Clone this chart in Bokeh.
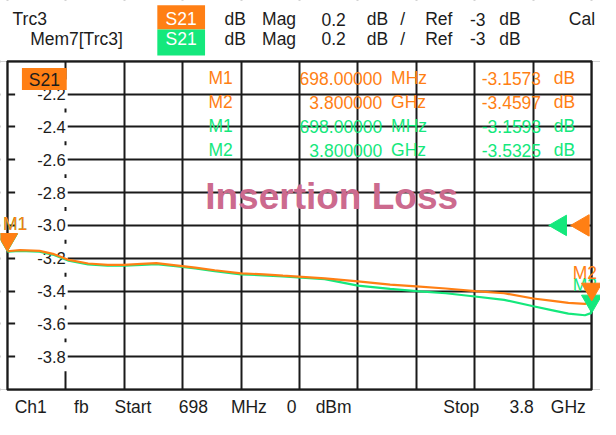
import math
from bokeh.plotting import figure
from bokeh.models import Grid, FixedTicker, Range1d
from bokeh.core.properties import value
from bokeh.embed import file_html
from bokeh.resources import INLINE

# ---------------- data ----------------
START_MHZ = 698.0
STOP_MHZ = 3800.0
REF_DB = -3.0
DB_PER_DIV = 0.2
N_XDIV = 10
N_YDIV = 10

freq_mhz = [698, 765, 869, 946, 1024, 1127, 1231, 1318, 1411, 1489, 1592, 1696, 1799, 1939,
            2058, 2161, 2383, 2559, 2730, 2869, 3025, 3180, 3335, 3490, 3593, 3676, 3764, 3800]
trc3_db = [-3.1573, -3.151, -3.155, -3.175, -3.210, -3.232, -3.240, -3.240, -3.234, -3.230,
           -3.243, -3.257, -3.273, -3.292, -3.298, -3.306, -3.322, -3.341, -3.361, -3.371,
           -3.384, -3.400, -3.413, -3.445, -3.459, -3.472, -3.478, -3.4597]
mem7_db = [-3.1593, -3.155, -3.160, -3.180, -3.215, -3.238, -3.245, -3.245, -3.240, -3.236,
           -3.248, -3.262, -3.279, -3.298, -3.304, -3.311, -3.327, -3.367, -3.386, -3.400,
           -3.413, -3.433, -3.453, -3.492, -3.517, -3.537, -3.547, -3.5325]

y_grid_values = [-2.0, -2.2, -2.4, -2.6, -2.8, -3.0, -3.2, -3.4, -3.6, -3.8, -4.0]
y_label_values = [-2.2, -2.4, -2.6, -2.8, -3.0, -3.2, -3.4, -3.6, -3.8]
y_label_texts = ["-2.2", "-2.4", "-2.6", "-2.8", "-3.0", "-3.2", "-3.4", "-3.6", "-3.8"]

marker_names = ["M1", "M2"]
marker_freq_mhz = [698.0, 3800.0]
trc3_marker_db = [-3.1573, -3.4597]
mem7_marker_db = [-3.1593, -3.5325]
marker_freq_texts = ["698.00000", "3.800000"]
marker_unit_texts = ["MHz", "GHz"]
trc3_marker_texts = ["-3.1573", "-3.4597"]
mem7_marker_texts = ["-3.1593", "-3.5325"]

header_row1 = ["Trc3", "dB", "Mag", "0.2", "dB", "/", "Ref", "-3", "dB", "Cal"]
header_row2 = ["Mem7[Trc3]", "dB", "Mag", "0.2", "dB", "/", "Ref", "-3", "dB"]
footer_words = ["Ch1", "fb", "Start", "698", "MHz", "0", "dBm", "Stop", "3.8", "GHz"]
param_text = "S21"
title_text = "Insertion Loss"

# ---------------- layout / style ----------------
FONT = "Liberation Sans"
ORANGE = "#ff7f14"
GREEN = "#14e87c"
PINK = "#cc6a8e"
INK = "#1c1c1c"
GRID = "#1a1a1a"

W, H = 600, 419                    # canvas
RW, RH = 616, 435                  # layout is designed on a 616x435 sheet, scaled onto the canvas
SX, SY = W / RW, H / RH
FL, FR, FT, FB = 7, 607, 63, 404   # diagram edges on the sheet
Y_TOP = REF_DB + (N_YDIV / 2) * DB_PER_DIV
Y_BOT = REF_DB - (N_YDIV / 2) * DB_PER_DIV
MHZ_PER_RPX = (STOP_MHZ - START_MHZ) / (FR - FL)
DB_PER_RPX = (Y_TOP - Y_BOT) / (FB - FT)
DB_PER_CPX = DB_PER_RPX / SY       # per canvas pixel


def X(rx):
    return START_MHZ + (rx - FL) * MHZ_PER_RPX


def Y(ry):
    return Y_TOP - (ry - FT) * DB_PER_RPX


def fs(px):
    return "%.1fpx" % (px * SX)


p = figure(width=W, height=H, x_range=Range1d(X(0), X(RW)), y_range=Range1d(Y(RH), Y(0)),
           x_axis_type=None, y_axis_type=None, toolbar_location=None, output_backend="svg",
           min_border=0)
p.min_border_left = p.min_border_right = p.min_border_top = p.min_border_bottom = 0
p.background_fill_color = "white"
p.border_fill_color = "white"
p.outline_line_color = None

x_grid_ticks = [START_MHZ + i * (STOP_MHZ - START_MHZ) / N_XDIV for i in range(N_XDIV + 1)]
p.add_layout(Grid(dimension=0, ticker=FixedTicker(ticks=x_grid_ticks),
                  grid_line_color=GRID, grid_line_width=2))
p.add_layout(Grid(dimension=1, ticker=FixedTicker(ticks=y_grid_values),
                  grid_line_color=GRID, grid_line_width=2))

# blank the grid outside the diagram area
p.quad(left=[X(0), X(0), X(0), STOP_MHZ], right=[X(RW), X(RW), START_MHZ, X(RW)],
       bottom=[Y_TOP, Y(RH), Y_BOT, Y_BOT], top=[Y(0), Y_BOT, Y_TOP, Y_TOP],
       fill_color="white", line_color=None)
# diagram frame
p.quad(left=[START_MHZ], right=[STOP_MHZ], bottom=[Y_BOT], top=[Y_TOP],
       fill_color=None, line_color=GRID, line_width=2)


def txt(xs, ys, texts, color=INK, size=18, align="center", style="normal"):
    p.text(x=xs, y=ys, text=texts, text_color=color, text_font=value(FONT),
           text_font_size=fs(size), text_font_style=style, text_align=align,
           text_baseline="middle")


# white plates behind the inside scale labels + labels
p.rect(x=[X(42)] * len(y_label_values), y=y_label_values,
       width=54 * MHZ_PER_RPX, height=30 * DB_PER_RPX, fill_color="white", line_color=None)
txt([x_grid_ticks[1]] * len(y_label_values), y_label_values, y_label_texts, size=17, align="right")

# marker readout table
rows_y = [Y(80.5), Y(105.5), Y(130.5), Y(155.5)]
row_col = [ORANGE, ORANGE, GREEN, GREEN]
row_m = [marker_names[0], marker_names[1], marker_names[0], marker_names[1]]
row_f = [marker_freq_texts[0], marker_freq_texts[1], marker_freq_texts[0], marker_freq_texts[1]]
row_u = [marker_unit_texts[0], marker_unit_texts[1], marker_unit_texts[0], marker_unit_texts[1]]
row_v = [trc3_marker_texts[0], trc3_marker_texts[1], mem7_marker_texts[0], mem7_marker_texts[1]]
txt([X(226)] * 4, rows_y, row_m, color=row_col)
txt([X(392)] * 4, rows_y, row_f, color=row_col, align="right")
txt([X(401)] * 4, rows_y, row_u, color=row_col, align="left")
txt([X(555)] * 4, rows_y, row_v, color=row_col, align="right")
txt([X(568)] * 4, rows_y, ["dB"] * 4, color=row_col, align="left")

# title
txt([X(340)], [Y(204)], [title_text], color=PINK, size=38, style="bold")

# traces
p.line(freq_mhz, mem7_db, line_color=GREEN, line_width=2.2)
p.line(freq_mhz, trc3_db, line_color=ORANGE, line_width=2.2)

# markers (apex of the triangle on the trace value)
TRI = 21 * SX
apex = 0.577 * TRI * DB_PER_CPX
lab = 28.5 * DB_PER_RPX
lab_x = [X(15), X(600)]
txt(lab_x, [v + lab for v in mem7_marker_db], marker_names, color=GREEN)
p.scatter(marker_freq_mhz, [v + apex for v in mem7_marker_db], marker="inverted_triangle",
          size=TRI, fill_color=GREEN, line_color=GREEN)
txt(lab_x, [v + lab for v in trc3_marker_db], marker_names, color=ORANGE)
p.scatter(marker_freq_mhz, [v + apex for v in trc3_marker_db], marker="inverted_triangle",
          size=TRI, fill_color=ORANGE, line_color=ORANGE)

# reference level arrows
p.scatter([X(575)], [REF_DB], marker="triangle", angle=math.pi / 2, size=21 * SX,
          fill_color=GREEN, line_color=GREEN)
p.scatter([X(598)], [REF_DB], marker="triangle", angle=math.pi / 2, size=22 * SX,
          fill_color=ORANGE, line_color=ORANGE)

# parameter boxes
p.quad(left=[X(22), X(161), X(161)], right=[X(68), X(210), X(210)],
       top=[Y(70), Y(5), Y(30)], bottom=[Y(93), Y(30), Y(57)],
       fill_color=[ORANGE, ORANGE, GREEN], line_color=None)
txt([X(45)], [Y(83)], [param_text])
txt([X(185.5), X(185.5)], [Y(19.5), Y(39.5)], [param_text, param_text], color="white")

# header lines
row1_x = [30, 241, 286, 342, 387, 413, 450, 490, 523, 597]
row2_x = [78, 241, 286, 342, 387, 413, 450, 490, 523]
txt([X(v) for v in row1_x], [Y(19.5)] * len(row1_x), header_row1)
txt([X(v) for v in row2_x], [Y(39.5)] * len(row2_x), header_row2)

# footer line
footer_x = [31, 83, 136, 198, 255, 299, 342, 473, 535, 583]
txt([X(v) for v in footer_x], [Y(422)] * len(footer_x), footer_words)

open("out.html", "w").write(file_html(p, INLINE))
